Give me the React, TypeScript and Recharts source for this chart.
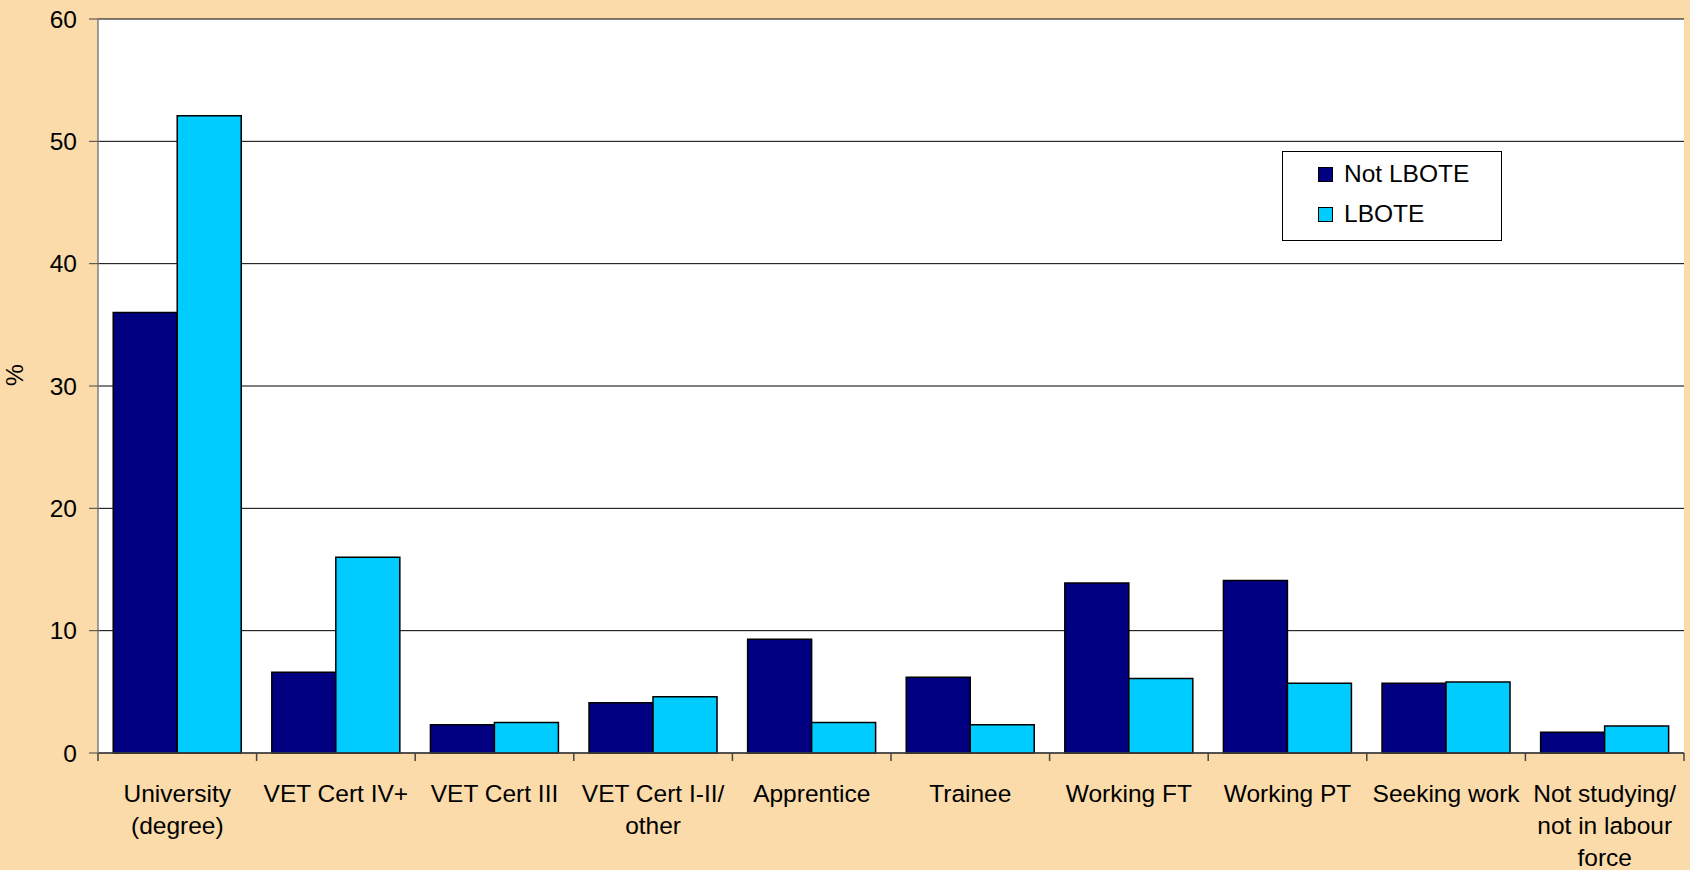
import React from "react"
import {
  BarChart,
  Bar,
  XAxis,
  YAxis,
  CartesianGrid,
  Legend,
} from "recharts"

const categories = [
  "University\n(degree)",
  "VET Cert IV+",
  "VET Cert III",
  "VET Cert I-II/\nother",
  "Apprentice",
  "Trainee",
  "Working FT",
  "Working PT",
  "Seeking work",
  "Not studying/\nnot in labour\nforce",
]
const notLbote = [36.0, 6.6, 2.3, 4.1, 9.3, 6.2, 13.9, 14.1, 5.7, 1.7]
const lbote = [52.1, 16.0, 2.5, 4.6, 2.5, 2.3, 6.1, 5.7, 5.8, 2.2]
const yTicks = [0, 10, 20, 30, 40, 50, 60]
const seriesOrder = ["notLbote", "lbote"]

const data = categories.map((name, i) => ({
  name,
  notLbote: notLbote[i],
  lbote: lbote[i],
}))

const DARK = "#000080"
const LIGHT = "#00CCFF"
const BG = "#FADBA9"
const FONT = "'Liberation Sans', Arial, sans-serif"

function CategoryTick(props: any) {
  const { x, y, payload, index, visibleTicksCount } = props
  const half = payload?.offset ?? 79
  const lines = String(payload.value).split("\n")
  return (
    <g>
      <line x1={x - half} x2={x - half} y1={y} y2={y + 8} stroke="#444" strokeWidth={1.5} />
      {index === visibleTicksCount - 1 && (
        <line x1={x + half} x2={x + half} y1={y} y2={y + 8} stroke="#444" strokeWidth={1.5} />
      )}
      <text x={x} y={y} textAnchor="middle" fontSize={24.5} fontFamily={FONT} fill="#000">
        {lines.map((l, i) => (
          <tspan key={i} x={x} y={y + 49 + i * 32}>
            {l}
          </tspan>
        ))}
      </text>
    </g>
  )
}

function LegendBox({ payload }: any) {
  const items = [...(payload || [])].sort(
    (a: any, b: any) => seriesOrder.indexOf(a.dataKey) - seriesOrder.indexOf(b.dataKey)
  )
  return (
    <div
      style={{
        width: 220,
        height: 90,
        border: "1px solid #000",
        background: "#fff",
        boxSizing: "border-box",
        paddingTop: 2,
        fontFamily: FONT,
        fontSize: 24.5,
      }}
    >
      {items.map((p: any) => (
        <div
          key={p.dataKey}
          style={{ display: "flex", alignItems: "center", height: 40, paddingLeft: 35 }}
        >
          <span
            style={{
              width: 13,
              height: 13,
              background: p.color,
              border: "1px solid #000",
              marginRight: 11,
              display: "inline-block",
            }}
          />
          <span>{p.value}</span>
        </div>
      ))}
    </div>
  )
}

export default function App() {
  return (
    <div style={{ position: "absolute", left: 0, top: 0, width: 1690, height: 870, background: BG }}>
      <BarChart
        width={1690}
        height={870}
        data={data}
        margin={{ top: 19, right: 6, bottom: 0, left: 0 }}
        barCategoryGap="9.6%"
        barGap={0}
      >
        <CartesianGrid vertical={false} stroke="#000" fill="#fff" fillOpacity={1} />
        <XAxis
          dataKey="name"
          height={117}
          interval={0}
          tickSize={0}
          tickMargin={0}
          tickLine={false}
          axisLine={{ stroke: "#444", strokeWidth: 1.5 }}
          tick={<CategoryTick />}
        />
        <YAxis
          width={98}
          domain={[0, 60]}
          ticks={yTicks}
          interval={0}
          tickSize={9}
          tickMargin={12}
          axisLine={{ stroke: "#808080", strokeWidth: 1.5 }}
          tickLine={{ stroke: "#444" }}
          tick={{ fontSize: 24.5, fontFamily: FONT, fill: "#000" }}
          label={{
            value: "%",
            angle: -90,
            position: "insideLeft",
            offset: 14,
            style: { fontSize: 24.5, fontFamily: FONT, fill: "#000" },
          }}
        />
        <YAxis
          yAxisId="right"
          orientation="right"
          width={0}
          tick={false}
          tickLine={false}
          axisLine={{ stroke: "#808080", strokeWidth: 1.5 }}
        />
        <Legend
          layout="horizontal"
          verticalAlign="middle"
          align="center"
          wrapperStyle={{ left: 1282, top: 151, width: 220, height: 90 }}
          content={<LegendBox />}
        />
        <Bar
          dataKey="notLbote"
          name="Not LBOTE"
          fill={DARK}
          stroke="#000"
          strokeWidth={1.5}
          isAnimationActive={false}
        />
        <Bar
          dataKey="lbote"
          name="LBOTE"
          fill={LIGHT}
          stroke="#000"
          strokeWidth={1.5}
          isAnimationActive={false}
        />
      </BarChart>
    </div>
  )
}
